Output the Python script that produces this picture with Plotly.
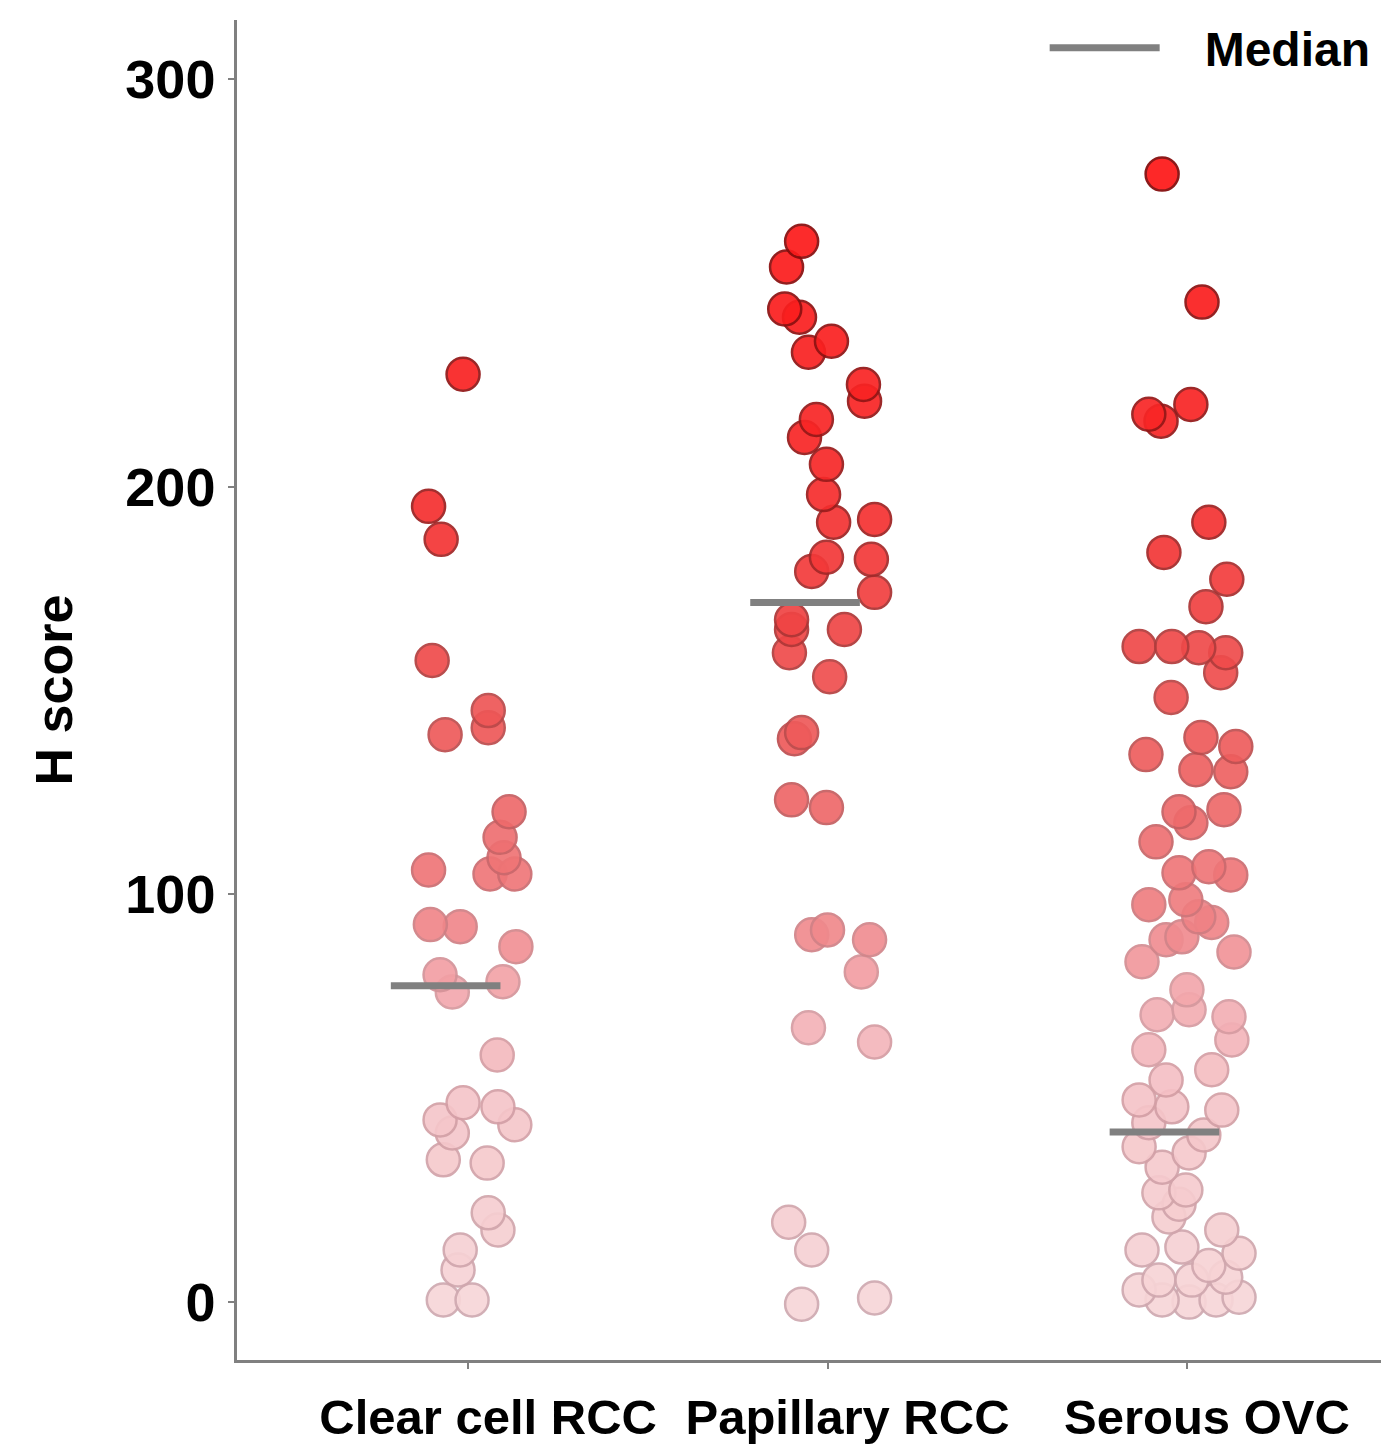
import plotly.graph_objects as go

categories = ["Clear cell RCC", "Papillary RCC", "Serous OVC"]

ccrcc_scores = [227.6, 195.2, 187.1, 157.4, 139.2, 145.1, 140.9, 120.3, 114.0, 109.0,
                105.0, 105.0, 106.0, 92.6, 92.1, 87.2, 80.3, 76.1, 78.6, 60.6,
                48.9, 44.7, 41.5, 47.9, 43.5, 34.9, 34.1, 21.9, 17.7, 12.8,
                7.9, 0.5, 0.5]
ccrcc_jitter = [-0.014, -0.11, -0.075, -0.10, -0.064, 0.056, 0.056, 0.114, 0.089, 0.10,
                0.061, 0.13, -0.11, -0.105, -0.022, 0.133, -0.078, -0.044, 0.097, 0.081,
                -0.014, -0.078, -0.044, 0.083, 0.13, -0.069, 0.053, 0.056, 0.083, -0.022,
                -0.028, -0.069, 0.011]

prcc_scores = [260.2, 253.9, 243.6, 241.6, 235.7, 233.0, 225.1, 221.0, 216.5, 212.1,
               205.5, 198.1, 191.3, 192.0, 182.7, 179.2, 182.2, 174.1, 167.4, 165.0,
               165.0, 159.3, 153.4, 139.7, 138.2, 123.2, 121.3, 90.1, 91.3, 88.9,
               81.0, 67.3, 63.8, 19.6, 12.8, -0.5, 1.0]
prcc_jitter = [-0.072, -0.114, -0.119, -0.078, 0.011, -0.053, 0.10, 0.103, -0.031, -0.064,
               -0.003, -0.011, 0.017, 0.131, -0.003, -0.044, 0.122, 0.131, -0.10, -0.10,
               0.047, -0.106, 0.006, -0.072, -0.092, -0.10, -0.003, -0.044, 0.0, 0.117,
               0.094, -0.053, 0.131, -0.108, -0.044, -0.072, 0.131]

ovc_scores = [276.7, 245.3, 217.8, 216.1, 220.2, 191.3, 183.9, 177.3, 170.6, 160.8,
              160.8, 160.5, 159.3, 154.4, 148.3, 138.5, 134.3, 136.3, 130.6, 130.1,
              120.3, 117.6, 120.8, 112.9, 106.8, 105.3, 104.8, 97.5, 98.7, 94.5,
              93.1, 88.9, 89.6, 83.5, 85.9, 76.6, 70.5, 71.7, 70.0, 64.3,
              61.9, 57.0, 54.5, 49.6, 47.9, 47.1, 44.0, 41.0, 38.1, 36.6,
              33.1, 27.5, 26.8, 24.0, 20.9, 17.7, 12.8, 13.5, 12.0, 9.0,
              5.4, 5.4, 6.1, 3.0, 0.5, 0.0, 0.5, 1.2]
ovc_jitter = [-0.069, 0.042, -0.106, -0.072, 0.011, 0.061, -0.064, 0.111, 0.053, -0.133,
              -0.042, 0.033, 0.108, 0.094, -0.044, 0.039, -0.114, 0.136, 0.025, 0.122,
              -0.022, 0.011, 0.103, -0.086, 0.061, -0.022, 0.122, -0.106, -0.003, 0.033,
              0.069, -0.058, -0.014, -0.125, 0.131, 0.0, -0.083, 0.006, 0.117, 0.125,
              -0.106, 0.069, -0.058, -0.133, -0.042, 0.097, -0.106, 0.047, -0.133, 0.006,
              -0.069, -0.003, -0.078, -0.022, -0.050, 0.097, -0.125, -0.014, 0.145, 0.061,
              -0.078, 0.014, 0.108, -0.133, -0.069, 0.006, 0.081, 0.145]

medians = [77.6, 171.6, 41.7]

series = [(ccrcc_scores, ccrcc_jitter), (prcc_scores, prcc_jitter), (ovc_scores, ovc_jitter)]

fill_scale = [[0.0, "#f7d6d8"], [0.17, "#f5c4c8"], [0.25, "#f3aab0"], [0.32, "#ef7f82"],
              [0.42, "#ee6565"], [0.55, "#ef4646"], [0.68, "#f72828"], [1.0, "#ff1010"]]
line_scale = [[0.0, "#cfa9b0"], [0.25, "#d69aa0"], [0.35, "#cc6c70"], [0.5, "#b84444"],
              [0.65, "#9c1e1e"], [1.0, "#7a0000"]]

FONT = "Arial, 'Liberation Sans', sans-serif"

fig = go.Figure()
for i, (scores, jit) in enumerate(series):
    order = sorted(range(len(scores)), key=lambda k: scores[k])
    xs = [i + jit[k] for k in order]
    ys = [scores[k] for k in order]
    fig.add_trace(go.Scatter(
        x=xs, y=ys, mode="markers", showlegend=False, name=categories[i],
        marker=dict(size=33, color=ys, colorscale=fill_scale, cmin=0, cmax=300,
                    opacity=0.92,
                    line=dict(width=2.5, color=ys, colorscale=line_scale, cmin=0, cmax=300)),
    ))

for i, m in enumerate(medians):
    fig.add_trace(go.Scatter(
        x=[i - 0.215, i + 0.09], y=[m, m], mode="lines",
        line=dict(color="#808080", width=7), name="\u00a0\u00a0\u00a0Median",
        showlegend=(i == 0), legendgroup="median",
    ))

fig.update_layout(
    width=1373, height=1438,
    margin=dict(l=229, r=0, t=12, b=86, autoexpand=False),
    plot_bgcolor="white", paper_bgcolor="white",
    font=dict(family=FONT, color="black"),
    legend=dict(x=0.706, xanchor="left", y=1.0075, yanchor="top",
                font=dict(size=48, family=FONT, weight="bold"),
                bgcolor="rgba(0,0,0,0)", itemwidth=110),
)
fig.update_xaxes(
    range=[-0.643, 2.540], tickmode="array", tickvals=[0, 1, 2], ticktext=categories,
    showgrid=False, zeroline=False, showline=True, linecolor="#808080", linewidth=2.5,
    ticks="outside", ticklen=6, tickcolor="#808080", tickwidth=1.5, automargin=False,
    tickfont=dict(size=49, family=FONT, weight="bold"), ticklabelstandoff=6,
    ticklabelshift=20,
)
fig.update_yaxes(
    range=[-14.2, 314.5], tickmode="array", tickvals=[0, 100, 200, 300],
    showgrid=False, zeroline=False, showline=True, linecolor="#808080", linewidth=2.5,
    ticks="outside", ticklen=6, tickcolor="#808080", tickwidth=1.5, automargin=False,
    tickfont=dict(size=54, family=FONT, weight="bold"), ticklabelstandoff=2,
    title=dict(text="H score", font=dict(size=52, family=FONT, weight="bold"), standoff=37),
)

fig.write_html("out.html")
